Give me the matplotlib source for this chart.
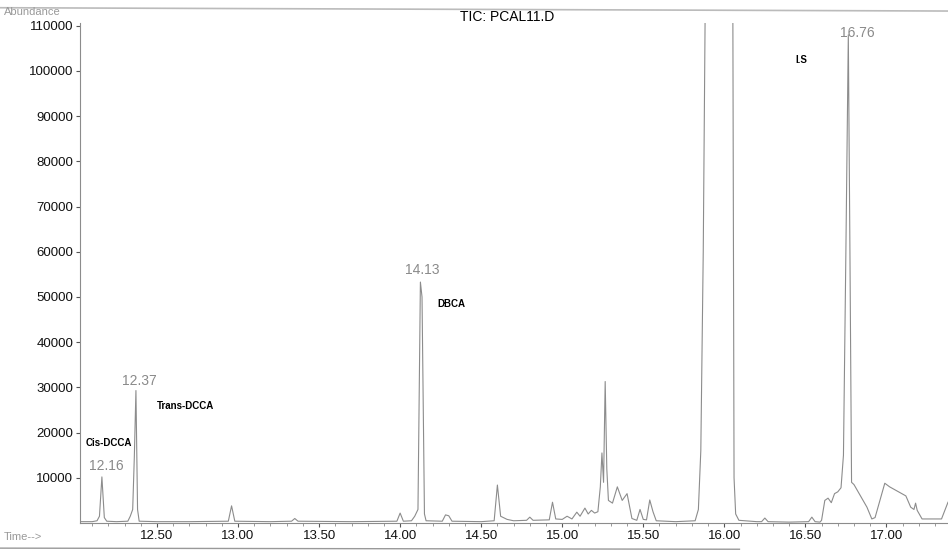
import matplotlib.pyplot as plt
from matplotlib.ticker import MultipleLocator, FixedLocator

plt.rcParams['font.family'] = ['Liberation Sans', 'DejaVu Sans']

# retention time (min) and abundance
rt = [12.025, 12.10, 12.13, 12.145, 12.16, 12.175, 12.19, 12.25, 12.32, 12.335, 12.35,
      12.36, 12.37, 12.38, 12.39, 12.50, 12.70, 12.94, 12.96, 12.98, 13.20, 13.33,
      13.35, 13.37, 13.70, 13.98, 14.00, 14.02, 14.07, 14.09, 14.11, 14.125, 14.135,
      14.15, 14.16, 14.26, 14.28, 14.30, 14.32, 14.50, 14.58, 14.60, 14.62, 14.66,
      14.70, 14.78, 14.80, 14.82, 14.92, 14.94, 14.96, 15.00, 15.03, 15.06, 15.09,
      15.11, 15.14, 15.16, 15.18, 15.20, 15.22, 15.235, 15.245, 15.255, 15.265, 15.275,
      15.285, 15.31, 15.34, 15.37, 15.40, 15.43, 15.46, 15.48, 15.50, 15.52, 15.54,
      15.56, 15.58, 15.70, 15.82, 15.84, 15.855, 15.87, 15.89, 16.05, 16.06, 16.07,
      16.09, 16.20, 16.23, 16.25, 16.27, 16.40, 16.52, 16.54, 16.56, 16.59, 16.60,
      16.62, 16.64, 16.66, 16.68, 16.70, 16.72, 16.735, 16.75, 16.765, 16.775, 16.785,
      16.80, 16.84, 16.88, 16.91, 16.93, 16.96, 16.99, 17.02, 17.08, 17.12, 17.15,
      17.17, 17.18, 17.19, 17.22, 17.34, 17.38]
abundance = [300, 300, 500, 1500, 10200, 1200, 400, 300, 400, 1500, 3000,
             14500, 29300, 3000, 400, 300, 300, 400, 3800, 400, 300, 400,
             1000, 400, 300, 400, 2200, 400, 500, 1500, 3000, 53300, 50000,
             2000, 500, 400, 1800, 1600, 400, 300, 500, 8400, 1500, 800,
             500, 600, 1300, 600, 700, 4600, 900, 800, 1500, 900, 2400,
             1500, 3300, 2000, 2800, 2200, 2500, 8000, 15500, 9000, 31300, 12000,
             5000, 4400, 8000, 5000, 6500, 1000, 600, 3000, 800, 700, 5100,
             2500, 500, 300, 500, 3000, 16000, 60000, 150000, 150000, 10000, 2000,
             600, 300, 300, 1100, 300, 200, 300, 1300, 300, 200, 600,
             5000, 5500, 4500, 6500, 6900, 7800, 15000, 60000, 108000, 60000, 9000,
             8500, 6000, 3500, 900, 1200, 5000, 8800, 8000, 6800, 6000, 3500,
             3000, 4400, 2800, 900, 900, 4600]

peak_rt = [12.16, 12.37, 14.13, 16.76]
peak_lbl = ['12.16', '12.37', '14.13', '16.76']
compounds = ['Cis-DCCA', 'Trans-DCCA', 'DBCA', 'I.S']

fig = plt.figure(figsize=(9.48, 5.52), dpi=100)
ax = fig.add_axes([0.0844, 0.0525, 0.9156, 0.905])
ax.plot(rt, abundance, color='#8c8c8c', lw=0.8)

ax.set_xlim(12.025, 17.38)
ax.set_ylim(0, 110500)
xt = [12.5, 13.0, 13.5, 14.0, 14.5, 15.0, 15.5, 16.0, 16.5, 17.0]
ax.xaxis.set_major_locator(FixedLocator(xt))
ax.xaxis.set_minor_locator(MultipleLocator(0.1))
ax.set_xticklabels(['%.2f' % v for v in xt])
ax.set_yticks(range(10000, 110001, 10000))
ax.tick_params(axis='both', labelsize=9.5, colors='#555555', labelcolor='#111111', length=3, width=0.8, pad=2)
ax.tick_params(axis='x', which='minor', length=2, colors='#888888')
for s in ['top', 'right']:
    ax.spines[s].set_visible(False)
for s in ['left', 'bottom']:
    ax.spines[s].set_color('#8c8c8c')

# retention time labels (grey) and compound names (bold)
lbl_pos = [(12.19, 12600), (12.39, 31400), (14.135, 56000), (16.82, 108500)]
for (x, y), t in zip(lbl_pos, peak_lbl):
    ax.text(x, y, t, color='#8a8a8a', fontsize=10, ha='center', va='center', clip_on=False)
cmp_pos = [(12.06, 17700), (12.50, 25900), (14.23, 48500), (16.44, 102400)]
for (x, y), t in zip(cmp_pos, compounds):
    ax.text(x, y, t, color='black', fontsize=7, fontweight='bold', ha='left', va='center')

fig.text(0.535, 0.969, 'TIC: PCAL11.D', fontsize=10, ha='center', va='center')
fig.text(0.004, 0.978, 'Abundance', fontsize=8, color='#999999', ha='left', va='center')
fig.text(0.004, 0.027, 'Time-->', fontsize=8, color='#999999', ha='left', va='center')
fig.add_artist(plt.Line2D([0, 1], [0.986, 0.98], color='#bbbbbb', lw=1.2))
fig.add_artist(plt.Line2D([0, 0.78], [0.007, 0.005], color='#999999', lw=1.0))

fig.savefig('out.png', dpi=100)
